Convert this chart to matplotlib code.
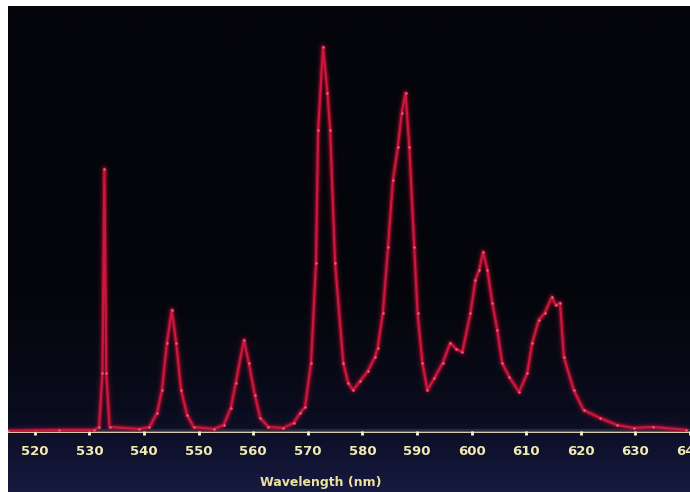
import numpy as np
import matplotlib
matplotlib.use("Agg")
import matplotlib.pyplot as plt
from matplotlib.colors import LinearSegmentedColormap

# Emission spectrum: wavelength (nm) and measured intensity (arb. units)
wavelength = [
    515.1, 524.5, 530.9, 531.8, 532.4, 532.75, 533.1, 533.7, 539.1, 541.0,
    542.4, 543.3, 544.2, 545.1, 545.9, 546.8, 547.9, 549.1, 552.8, 554.6,
    555.9, 556.8, 558.3, 559.2, 560.3, 561.3, 562.8, 565.5, 567.4, 568.6,
    569.5, 570.6, 571.5, 571.9, 572.8, 573.6, 574.1, 575.0, 576.5, 577.4,
    578.3, 579.6, 581.0, 582.3, 582.8, 583.75, 584.7, 585.6, 586.5, 587.2,
    587.9, 588.6, 589.5, 590.1, 591.0, 591.9, 593.2, 594.7, 596.1, 597.2,
    598.3, 599.8, 600.7, 601.4, 602.1, 602.9, 603.8, 604.7, 605.6, 606.9,
    608.7, 610.2, 611.1, 612.3, 613.4, 614.7, 615.4, 616.2, 616.9, 618.7,
    620.5, 623.5, 626.6, 629.7, 633.3, 639.3,
]
intensity = [
    2, 3, 3, 6, 60, 264, 60, 6, 4, 6,
    20, 43, 90, 123, 90, 43, 18, 6, 4, 8,
    25, 50, 93, 70, 38, 15, 6, 5, 10, 20,
    26, 70, 170, 303, 386, 340, 303, 170, 70, 50,
    43, 52, 62, 76, 85, 120, 186, 253, 286, 320,
    340, 286, 186, 120, 70, 43, 55, 70, 90, 84,
    81, 120, 153, 163, 181, 163, 130, 103, 70, 56,
    41, 60, 90, 113, 120, 136, 128, 130, 76, 43,
    23, 15, 8, 5, 6, 3,
]
tick_values = [520, 530, 540, 550, 560, 570, 580, 590, 600, 610, 620, 630, 640]

W, H = 690, 492
fig = plt.figure(figsize=(W / 100, H / 100), dpi=100)
fig.patch.set_facecolor("white")

# dark screen background with a faint navy tint towards the bottom
bg = fig.add_axes([8 / W, 0, (W - 8) / W, (H - 6) / H])
bg.set_axis_off()
cmap = LinearSegmentedColormap.from_list(
    "screen", ["#04050a", "#05060c", "#0a0c1e", "#161a40"])
grad = np.linspace(0, 1, 256) ** 2.2
grad = np.tile(grad[:, None], (1, 8))
bg.imshow(grad, cmap=cmap, aspect="auto", extent=[0, 1, 1, 0],
          interpolation="bilinear")
bg.set_xlim(0, 1)
bg.set_ylim(1, 0)

ax = fig.add_axes([8 / W, (H - 433) / H, (W - 8) / W, (433 - 6) / H])
ax.patch.set_alpha(0)
ax.set_xlim(515.1, 639.3)
ax.set_ylim(0, 427)

# glowing trace
for lw, a in [(8, 0.08), (5, 0.18), (3.2, 0.45)]:
    ax.plot(wavelength, intensity, color="#b80c30", lw=lw, alpha=a,
            solid_joinstyle="round", solid_capstyle="round", zorder=3)
ax.plot(wavelength, intensity, color="#c8183e", lw=1.6, zorder=4,
        solid_joinstyle="round",
        marker="o", ms=1.8, mfc="#e86080", mec="none")

# bright baseline acting as the x axis
for lw, a in [(6, 0.12), (3.5, 0.3)]:
    ax.axhline(0, color="#f4ecc0", lw=lw, alpha=a, zorder=2)
ax.axhline(0, color="#f6f0cc", lw=1.8, zorder=5)

for s in ax.spines.values():
    s.set_visible(False)
ax.set_yticks([])
ax.set_xticks(tick_values)
ax.set_xticklabels([str(v) for v in tick_values])
ax.tick_params(axis="x", length=3, width=2, direction="inout",
               color="#fff6d0", pad=7, labelsize=9.5, labelcolor="#f2eab0")
for t in ax.get_xticklabels():
    t.set_fontweight("bold")

ax.set_xlabel("Wavelength (nm)", color="#ece2a0", fontsize=9,
              fontweight="bold", va="center")
ax.xaxis.set_label_coords(0.459, -0.115)

fig.savefig("out.png", dpi=100, facecolor=fig.get_facecolor())
